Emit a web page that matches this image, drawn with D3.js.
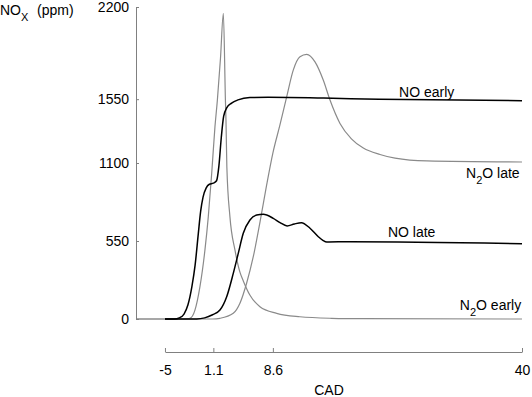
<!DOCTYPE html>
<html>
<head>
<meta charset="utf-8">
<script src="https://cdn.jsdelivr.net/npm/d3@7"></script>
<style>
  body { margin: 0; background: #fff; }
  svg text { font-family: "Liberation Sans", Arial, Helvetica, sans-serif; }
</style>
</head>
<body>
<svg id="chart" width="532" height="397"></svg>
<script>
// --- data (CAD, ppm) ---
const noEarlyCad = [-5, -3.8, -3.2, -2.6, -2.1, -1.6, -1.2, -0.8, -0.5, -0.2, 0.2, 0.6, 1.1, 1.5, 1.8, 2.1, 2.4, 2.8, 3.4, 4.2, 5.7, 8, 15, 22, 40];
const noEarlyPpm = [0, 0, 8, 35, 100, 230, 380, 600, 760, 860, 925, 950, 958, 975, 1080, 1280, 1430, 1490, 1522, 1545, 1562, 1563, 1558, 1549, 1539];

const n2oEarlyCad = [-8.65, -2.5, -1.85, -1.22, -0.59, 0.04, 0.46, 0.89, 1.3, 1.6, 2.0, 2.36, 2.62, 2.69, 2.8, 3.19, 3.82, 4.45, 4.9, 5.7, 6.97, 9.08, 12, 16, 20, 40];
const n2oEarlyPpm = [0, 0, 5, 63, 228, 487, 720, 1026, 1355, 1540, 1840, 2155, 1544, 1403, 1074, 720, 487, 330, 265, 169, 87, 40, 16, 5, 2, 0];

const noLateCad = [-5, -1, 0, 1, 1.93, 2.78, 3.61, 4.24, 4.87, 5.71, 6.56, 7.39, 8.65, 9.5, 10.4, 11.3, 12.2, 13.28, 14.33, 14.9, 15.4, 18.3, 40];
const noLatePpm = [0, 0, 8, 30, 63, 157, 322, 463, 604, 698, 733, 738, 710, 680, 656, 670, 679, 640, 580, 555, 543, 545, 531];

const n2oLateCad = [-8.65, 1.0, 1.93, 3.61, 4.45, 5.29, 6.13, 7.0, 7.8, 8.6, 9.5, 10.34, 11.17, 12.02, 12.86, 13.91, 14.95, 15.8, 17.06, 18.5, 20.0, 22.1, 24, 28, 40];
const n2oLatePpm = [0, 0, 5, 40, 111, 252, 439, 690, 940, 1170, 1370, 1566, 1755, 1849, 1866, 1813, 1685, 1544, 1379, 1270, 1205, 1160, 1135, 1115, 1107];

const xTicks = [-5, 1.1, 8.6, 40];
const xTickLabels = ["-5", "1.1", "8.6", "40"];
const yTicks = [0, 550, 1100, 1550, 2200];

const series = [
  { name: "N2O early", cad: n2oEarlyCad, ppm: n2oEarlyPpm, color: "#8a8a8a", width: 1.2 },
  { name: "N2O late", cad: n2oLateCad, ppm: n2oLatePpm, color: "#8a8a8a", width: 1.2 },
  { name: "NO early", cad: noEarlyCad, ppm: noEarlyPpm, color: "#000", width: 1.5 },
  { name: "NO late", cad: noLateCad, ppm: noLatePpm, color: "#000", width: 1.5 }
];

// label anchors in data units
const labels = [
  { cad: 24.5, ppm: 1565, anchor: "start", parts: ["NO early"] },
  { cad: 23.1, ppm: 580, anchor: "start", parts: ["NO late"] },
  { cad: 39.7, ppm: 995, anchor: "end", parts: ["N", "2", "O late"] },
  { cad: 39.9, ppm: 65, anchor: "end", parts: ["N", "2", "O early"] }
];

const svg = d3.select("#chart");

const x = d3.scaleLinear().domain([-8.65, 40]).range([136, 522]);
const y = d3.scaleLinear().domain([0, 2200]).range([319, 7]);

const line = d3.line()
  .x(d => x(d[0]))
  .y(d => y(d[1]))
  .curve(d3.curveMonotoneX);

svg.append("g")
  .selectAll("path")
  .data(series)
  .join("path")
  .attr("fill", "none")
  .attr("stroke", d => d.color)
  .attr("stroke-width", d => d.width)
  .attr("d", d => line(d.cad.map((c, i) => [c, d.ppm[i]])));

// y axis (ticks point inward)
const yAxis = svg.append("g")
  .attr("transform", `translate(${x(-8.65)},0)`)
  .call(d3.axisLeft(y).tickValues(yTicks).tickFormat(d3.format("d"))
    .tickSizeInner(-3).tickSizeOuter(0).tickPadding(7));

// x axis, offset below the plot, only spanning -5..40
const xAxisScale = d3.scaleLinear().domain([-5, 40]).range([x(-5), x(40)]);
const xAxis = svg.append("g")
  .attr("transform", "translate(0,352)")
  .call(d3.axisBottom(xAxisScale).tickValues(xTicks)
    .tickFormat((d, i) => xTickLabels[i])
    .tickSizeInner(-4).tickSizeOuter(0).tickPadding(13));

[yAxis, xAxis].forEach(g => {
  g.selectAll("path, line").attr("stroke", "#808080");
  g.selectAll("text").attr("fill", "#000").style("font-size", "14px")
    .style("font-family", "'Liberation Sans', Arial, sans-serif");
});

// axis titles
svg.append("text")
  .attr("x", (136 + 522) / 2)
  .attr("y", 395)
  .attr("text-anchor", "middle")
  .style("font-size", "14px")
  .text("CAD");

const yTitle = svg.append("text").attr("x", 0).attr("y", 15).style("font-size", "14px");
yTitle.append("tspan").text("NO");
yTitle.append("tspan").attr("dy", 6).style("font-size", "11px").text("X");
yTitle.append("tspan").attr("dy", -6).attr("x", 37).text("(ppm)");

// in-plot series labels
labels.forEach(l => {
  const t = svg.append("text")
    .attr("x", x(l.cad))
    .attr("y", y(l.ppm))
    .attr("text-anchor", l.anchor)
    .style("font-size", "14px");
  if (l.parts.length === 1) {
    t.text(l.parts[0]);
  } else {
    t.append("tspan").text(l.parts[0]);
    t.append("tspan").attr("dy", 6).style("font-size", "11px").text(l.parts[1]);
    t.append("tspan").attr("dy", -6).text(l.parts[2]);
  }
});
</script>
</body>
</html>
